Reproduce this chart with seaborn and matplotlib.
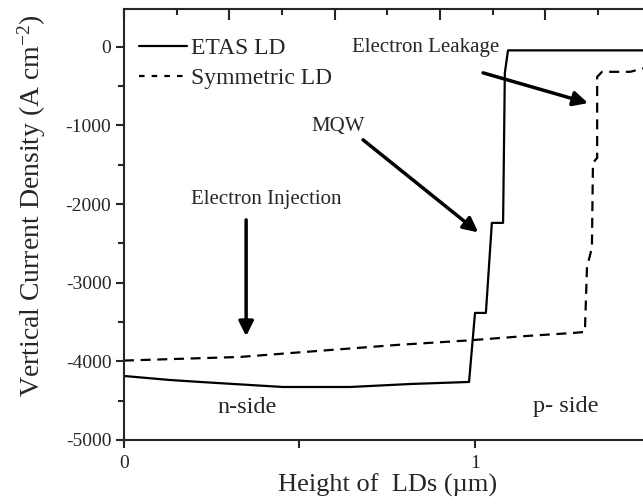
import numpy as np
import pandas as pd
import matplotlib
matplotlib.use("Agg")
import matplotlib.pyplot as plt
import seaborn as sns

# ---- data ----
etas_x = [0.0, 0.131, 0.217, 0.453, 0.644, 0.815, 0.983, 1.0, 1.031, 1.048, 1.080, 1.085, 1.094, 1.50]
etas_y = [-4186, -4237, -4262, -4326, -4326, -4288, -4262, -3384, -3384, -2239, -2239, -331, -45, -45]

sym_x = [0.0, 0.330, 0.516, 0.778, 0.977, 1.148, 1.279, 1.313, 1.319, 1.333, 1.336, 1.348, 1.348, 1.362, 1.442, 1.50]
sym_y = [-3990, -3944, -3880, -3791, -3735, -3677, -3639, -3626, -2799, -2557, -1476, -1412, -382, -318, -318, -250]

series_labels = ["ETAS LD", "Symmetric LD"]
xlabel = "Height of  LDs (\u00b5m)"
ylabel = r"Vertical Current Density (A cm$\mathregular{^{-2}}$)"

annotations = [
    # text, text position, arrow start, arrow end
    ("Electron Leakage", (0.858, -10), (1.023, -331), (1.322, -716)),
    ("MQW", (0.610, -1018), (0.681, -1183), (1.009, -2360)),
    ("Electron Injection", (0.405, -1946), (0.348, -2201), (0.348, -3680)),
]
side_labels = [("n-side", (0.350, -4592)), ("p- side", (1.259, -4580))]

# ---- style ----
sns.set_theme(style="ticks")
plt.rcParams["font.family"] = ["Liberation Serif", "DejaVu Serif"]
plt.rcParams["mathtext.fontset"] = "custom"
plt.rcParams["mathtext.rm"] = "Liberation Serif"
plt.rcParams["axes.unicode_minus"] = False

fig = plt.figure(figsize=(6.43, 5.04), dpi=100)
ax = fig.add_axes([0.1928, 0.127, 0.8189, 0.855])

df_e = pd.DataFrame({"x": etas_x, "y": etas_y})
df_s = pd.DataFrame({"x": sym_x, "y": sym_y})
sns.lineplot(data=df_e, x="x", y="y", estimator=None, sort=False, ax=ax,
             color="black", lw=1.6, label=series_labels[0])
sns.lineplot(data=df_s, x="x", y="y", estimator=None, sort=False, ax=ax,
             color="black", lw=1.6, label=series_labels[1])
ax.lines[1].set_dashes([4.5, 3.0])

ax.set_xlim(0, 1.5)
ax.set_ylim(-5000, 480)

ax.set_xticks([0, 1])
ax.set_xticklabels(["0", "1"])
ax.set_xticks([0.5], minor=True)
ax.set_yticks([0, -1000, -2000, -3000, -4000, -5000])
ax.set_yticklabels(["0", "-1000", "-2000", "-3000", "-4000", "-5000"])
ax.set_yticks(np.arange(-4500, 500, 1000), minor=True)

ax.tick_params(axis="x", which="both", direction="out", length=6, width=1.5, labelsize=14, pad=5)
ax.tick_params(axis="y", which="major", direction="out", length=6, width=1.5, labelsize=14, pad=3)
ax.tick_params(axis="y", which="minor", direction="out", length=4, width=1.5)

for s in ax.spines.values():
    s.set_linewidth(1.5)
ax.spines["right"].set_visible(False)

# top axis ticks (inward, unlabeled)
top = ax.secondary_xaxis("top")
top.set_xticks(np.arange(0, 1.51, 0.3))
top.set_xticks(np.arange(0.15, 1.51, 0.3), minor=True)
top.tick_params(which="major", direction="in", length=8, width=1.5, labeltop=False)
top.tick_params(which="minor", direction="in", length=4, width=1.5)
top.set_xticklabels([])

ax.set_xlabel(xlabel, fontsize=19, labelpad=1)
ax.set_ylabel(ylabel, fontsize=20, labelpad=6)
ax.yaxis.set_label_coords(-0.145, 0.545)

leg = ax.legend(loc="upper left", bbox_to_anchor=(0.028, 0.933), frameon=False,
                fontsize=17, handlelength=2.05, handletextpad=0.15,
                borderaxespad=0, borderpad=0, labelspacing=0.35)
leg.get_lines()[1].set_dashes([2.5, 3.2])

for text, tpos, a0, a1 in annotations:
    ax.text(tpos[0], tpos[1], text, ha="center", va="center", fontsize=15)
    ax.annotate("", xy=a1, xytext=a0,
                arrowprops=dict(arrowstyle="-|>", color="black", lw=2.5,
                                mutation_scale=22, shrinkA=0, shrinkB=0))
for text, tpos in side_labels:
    ax.text(tpos[0], tpos[1], text, ha="center", va="center", fontsize=17.5)

fig.savefig("out.png", dpi=100)
